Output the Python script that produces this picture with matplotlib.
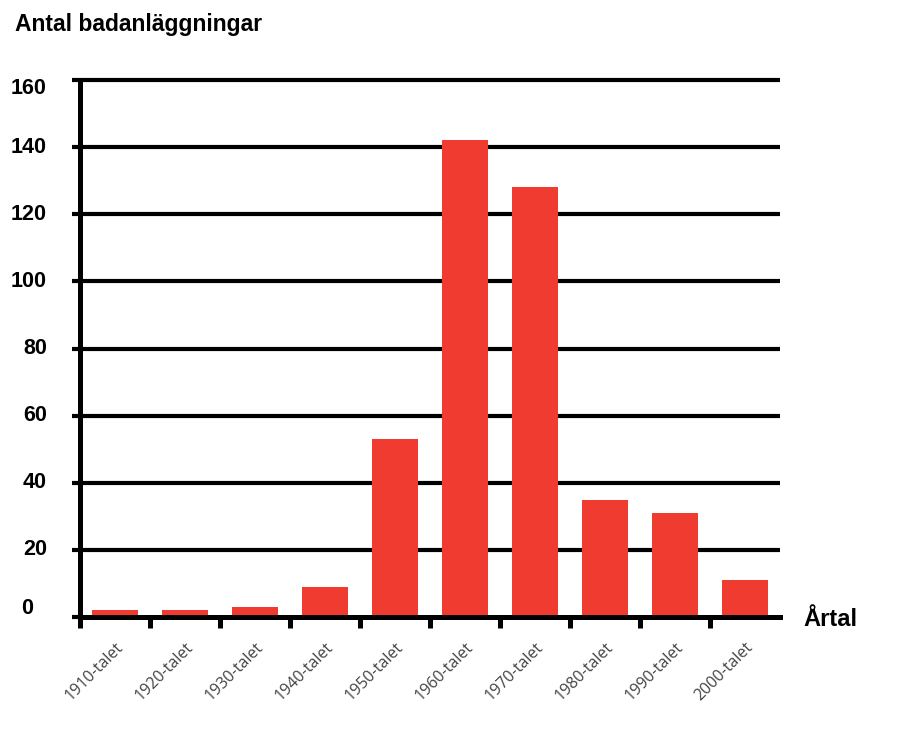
import matplotlib
matplotlib.use("Agg")
import matplotlib.pyplot as plt
import matplotlib.transforms as mtransforms
import numpy as np

categories = ["1910-talet", "1920-talet", "1930-talet", "1940-talet", "1950-talet",
              "1960-talet", "1970-talet", "1980-talet", "1990-talet", "2000-talet"]
values = [2, 2, 3, 9, 53, 142, 128, 35, 31, 11]
yticks = [0, 20, 40, 60, 80, 100, 120, 140, 160]

fig = plt.figure(figsize=(9.21, 7.39), dpi=100)
ax = fig.add_axes([80/921, 1-617/739, 700/921, 537/739])

x = np.arange(len(categories))
ax.set_xlim(-0.5, 9.5)
ax.set_ylim(0, 160)

for yv in yticks[1:]:
    ax.axhline(yv, color="black", lw=3.0, zorder=1, solid_capstyle="butt", clip_on=False)

ax.bar(x, values, width=0.65, color="#F03C30", zorder=2)

for s in ["top", "right"]:
    ax.spines[s].set_visible(False)
ax.spines["left"].set_linewidth(3.6)
ax.spines["bottom"].set_linewidth(3.6)
ax.spines["left"].set_zorder(3)
ax.spines["bottom"].set_zorder(3)

ax.set_yticks(yticks)
ax.set_yticklabels([])
ax.tick_params(axis="y", length=6, width=3.0, direction="out")

# y tick labels placed as text (reference has a few irregular offsets)
ytrans = ax.get_yaxis_transform()
offsets = {0: (-14, 8), 160: (0, -9)}
for v in yticks:
    dx, dy = offsets.get(v, (0, 0))
    tr = ytrans + mtransforms.ScaledTranslation(dx/100, dy/100, fig.dpi_scale_trans)
    ax.text((47-80)/700, v, str(v), transform=tr, ha="right", va="center",
            fontsize=15.5, fontweight="bold", family="Liberation Sans", clip_on=False)

ax.set_xticks(np.arange(-0.5, 9.0, 1.0))
ax.set_xticklabels([])
ax.tick_params(axis="x", which="major", length=8, width=3.6, direction="out")
ax.set_xticks(x, minor=True)
ax.set_xticklabels(categories, minor=True, rotation=45, ha="right",
                   rotation_mode="anchor", fontsize=11.5, color="#444444",
                   family="Open Sans")
ax.tick_params(axis="x", which="minor", length=0, pad=16)

fig.text(15/921, 1-25/739, "Antal badanläggningar", fontsize=16.5, fontweight="bold",
         family="Liberation Sans", va="center", ha="left")
fig.text(803/921, 1-619/739, "Årtal", fontsize=17, fontweight="bold",
         family="Liberation Sans", va="center", ha="left")

fig.savefig("out.png", dpi=100)
